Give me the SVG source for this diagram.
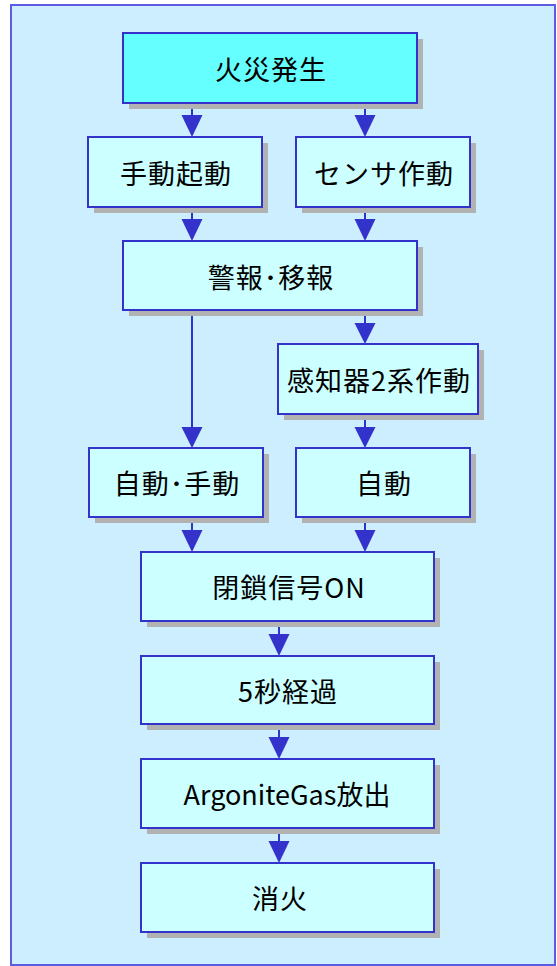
<svg xmlns="http://www.w3.org/2000/svg" width="557" height="966" viewBox="0 0 557 966">
<defs>
<style>
.shadow{fill:#b2b2b2}
.box{fill:#ccffff;stroke:#3333cc;stroke-width:2}
.top{fill:#66ffff}
.lbl{font-family:"Noto Sans CJK JP","Liberation Sans",sans-serif;font-size:27px;letter-spacing:1px;fill:#000;text-anchor:middle}
.tight{letter-spacing:0}
.conn line{stroke:#3333cc;stroke-width:2}
.conn polygon{fill:#3333cc}
</style>
</defs>
<rect x="0" y="0" width="557" height="966" fill="#ffffff"/>
<rect x="11" y="5" width="544" height="960" fill="#cceeff" stroke="#5c5ce0" stroke-width="2"/>

<g id="connectors" class="conn">
<line x1="192" y1="102" x2="192" y2="118"/><polygon points="181.5,115 202.5,115 192,137"/>
<line x1="365" y1="102" x2="365" y2="118"/><polygon points="354.5,115 375.5,115 365,137"/>
<line x1="192" y1="207" x2="192" y2="222"/><polygon points="181.5,219 202.5,219 192,241"/>
<line x1="365" y1="207" x2="365" y2="222"/><polygon points="354.5,219 375.5,219 365,241"/>
<line x1="365" y1="310" x2="365" y2="326"/><polygon points="354.5,323 375.5,323 365,344"/>
<line x1="192" y1="310" x2="192" y2="430"/><polygon points="181.5,427 202.5,427 192,448"/>
<line x1="365" y1="414" x2="365" y2="430"/><polygon points="354.5,427 375.5,427 365,448"/>
<line x1="192" y1="517" x2="192" y2="533"/><polygon points="181.5,530 202.5,530 192,552"/>
<line x1="365" y1="517" x2="365" y2="533"/><polygon points="354.5,530 375.5,530 365,552"/>
<line x1="279" y1="621" x2="279" y2="637"/><polygon points="268.5,634 289.5,634 279,656"/>
<line x1="279" y1="724" x2="279" y2="740"/><polygon points="268.5,737 289.5,737 279,759"/>
<line x1="279" y1="828" x2="279" y2="844"/><polygon points="268.5,841 289.5,841 279,863"/>
</g>

<g id="n-fire">
<rect class="shadow" x="129" y="39" width="294" height="70"/>
<rect class="box top" x="123" y="33" width="294" height="70"/>
<text class="lbl" x="271" y="80">火災発生</text>
</g>
<g id="n-manual">
<rect class="shadow" x="94" y="143" width="174" height="70"/>
<rect class="box" x="88" y="137" width="174" height="70"/>
<text class="lbl" x="176" y="184">手動起動</text>
</g>
<g id="n-sensor">
<rect class="shadow" x="302" y="143" width="174" height="70"/>
<rect class="box" x="296" y="137" width="174" height="70"/>
<text class="lbl" x="384" y="184">センサ作動</text>
</g>
<g id="n-alarm">
<rect class="shadow" x="129" y="247" width="294" height="69"/>
<rect class="box" x="123" y="241" width="294" height="69"/>
<text class="lbl" x="271" y="288">警報･移報</text>
</g>
<g id="n-detector">
<rect class="shadow" x="284" y="350" width="200" height="70"/>
<rect class="box" x="278" y="344" width="200" height="70"/>
<text class="lbl" x="379" y="391">感知器2系作動</text>
</g>
<g id="n-automanual">
<rect class="shadow" x="95" y="454" width="174" height="69"/>
<rect class="box" x="89" y="448" width="174" height="69"/>
<text class="lbl" x="177" y="494">自動･手動</text>
</g>
<g id="n-auto">
<rect class="shadow" x="302" y="454" width="174" height="69"/>
<rect class="box" x="296" y="448" width="174" height="69"/>
<text class="lbl" x="384" y="494">自動</text>
</g>
<g id="n-close">
<rect class="shadow" x="147" y="558" width="293" height="69"/>
<rect class="box" x="141" y="552" width="293" height="69"/>
<text class="lbl" x="289" y="598">閉鎖信号ON</text>
</g>
<g id="n-5sec">
<rect class="shadow" x="147" y="662" width="293" height="68"/>
<rect class="box" x="141" y="656" width="293" height="68"/>
<text class="lbl" x="288" y="702">5秒経過</text>
</g>
<g id="n-gas">
<rect class="shadow" x="147" y="765" width="293" height="69"/>
<rect class="box" x="141" y="759" width="293" height="69"/>
<text class="lbl tight" x="287" y="805">ArgoniteGas放出</text>
</g>
<g id="n-extinguish">
<rect class="shadow" x="147" y="869" width="293" height="69"/>
<rect class="box" x="141" y="863" width="293" height="69"/>
<text class="lbl" x="280" y="909">消火</text>
</g>
</svg>
